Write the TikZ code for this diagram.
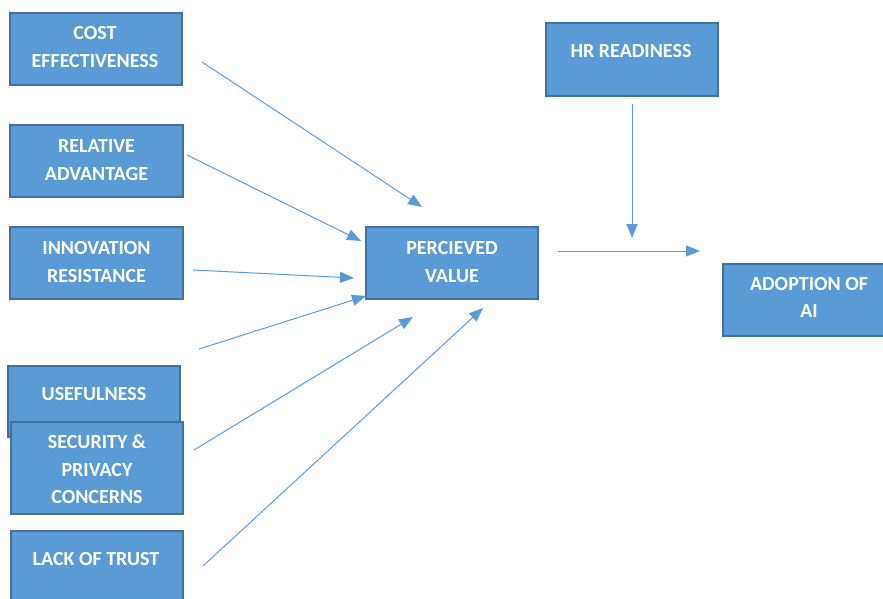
\documentclass[tikz,border=0pt]{standalone}
\usepackage{fontspec}
\setmainfont{Carlito}
\usetikzlibrary{arrows.meta}
\definecolor{boxfill}{HTML}{5B9BD5}
\definecolor{boxline}{HTML}{41719C}
\tikzset{
  box/.style={draw=boxline, fill=boxfill, line width=1.6pt, rectangle, inner sep=0pt},
  lbl/.style={text=white, font=\fontsize{20}{27.5}\selectfont\bfseries, align=center, inner sep=0pt},
  conn/.style={draw=boxfill, line width=1pt, -{Triangle[length=14pt,width=11pt]}}
}
\begin{document}
\begin{tikzpicture}[x=1pt,y=-1pt]
\useasboundingbox (0,0) rectangle (883,599);
\begin{scope}
\clip (0,0) rectangle (883,599);
\node[box, minimum width=172pt, minimum height=72pt] (cost) at (96,49) {};
\node[lbl] at (95,47) {COST\\EFFECTIVENESS};
\node[box, minimum width=173pt, minimum height=72pt] (rel) at (96.5,161) {};
\node[lbl] at (96.5,160) {RELATIVE\\ADVANTAGE};
\node[box, minimum width=173pt, minimum height=72pt] (inno) at (96.5,263) {};
\node[lbl] at (96.5,262) {INNOVATION\\RESISTANCE};
\node[box, minimum width=172pt, minimum height=71pt] (use) at (94,401.5) {};
\node[lbl] at (94,394) {USEFULNESS};
\node[box, minimum width=172pt, minimum height=92pt] (sec) at (97,468) {};
\node[lbl] at (97,469.5) {SECURITY \&\\PRIVACY\\CONCERNS};
\node[box, minimum width=172pt, minimum height=78pt] (trust) at (97,570) {};
\node[lbl] at (96,559) {LACK OF TRUST};
\node[box, minimum width=172pt, minimum height=72pt] (pv) at (452,263) {};
\node[lbl] at (452,262) {PERCIEVED\\VALUE};
\node[box, minimum width=172pt, minimum height=73pt] (hr) at (632,59.5) {};
\node[lbl] at (631,51) {HR READINESS};
\node[box, minimum width=170pt, minimum height=72pt] (ai) at (808,300) {};
\node[lbl] at (809,297.5) {ADOPTION OF\\AI};
\end{scope}
\coordinate (c1s) at (202,62);  \coordinate (c1e) at (422,207);
\coordinate (c2s) at (187,155); \coordinate (c2e) at (361,241);
\coordinate (c3s) at (193,270); \coordinate (c3e) at (354,278);
\coordinate (c4s) at (199,349); \coordinate (c4e) at (366,296);
\coordinate (c5s) at (194,450); \coordinate (c5e) at (413,317);
\coordinate (c6s) at (203,566); \coordinate (c6e) at (483,308);
\coordinate (c7s) at (632,104); \coordinate (c7e) at (632,238);
\coordinate (c8s) at (558,251); \coordinate (c8e) at (700,251);
\draw[conn] (c1s) -- (c1e);
\draw[conn] (c2s) -- (c2e);
\draw[conn] (c3s) -- (c3e);
\draw[conn] (c4s) -- (c4e);
\draw[conn] (c5s) -- (c5e);
\draw[conn] (c6s) -- (c6e);
\draw[conn] (c7s) -- (c7e);
\draw[conn] (c8s) -- (c8e);
\end{tikzpicture}
\end{document}
